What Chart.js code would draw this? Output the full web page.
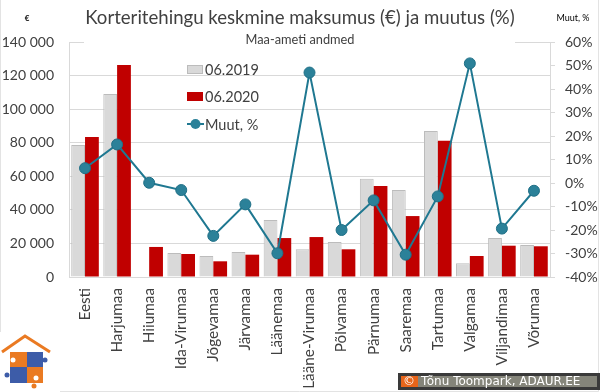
<!DOCTYPE html>
<html>
<head>
<meta charset="utf-8">
<script src="https://cdn.jsdelivr.net/npm/chart.js@4/dist/chart.umd.min.js"></script>
<style>
  html, body { margin: 0; padding: 0; background: #fff; }
  #wrap { width: 600px; height: 392px; position: relative; }
</style>
</head>
<body>
<div id="wrap"><canvas id="c"></canvas></div>
<script>
// data
const maakonnad = ['Eesti', 'Harjumaa', 'Hiiumaa', 'Ida-Virumaa', 'Jõgevamaa', 'Järvamaa', 'Läänemaa',
  'Lääne-Virumaa', 'Põlvamaa', 'Pärnumaa', 'Saaremaa', 'Tartumaa', 'Valgamaa', 'Viljandimaa', 'Võrumaa'];
const hind2019 = [78600, 109000, null, 14300, 12500, 14900, 34000, 16500, 20900, 58600, 51800, 87000, 8150, 23200, 19000];
const hind2020 = [83400, 126300, 17900, 13700, 9350, 13300, 23200, 23800, 16500, 54200, 36300, 81200, 12500, 18650, 18300];
const muutus = [6.3, 16.4, 0.1, -3.0, -22.5, -9.1, -29.9, 47.0, -20.0, -7.4, -30.5, -5.7, 50.9, -19.4, -3.3];

const TXT = '#404040';
const GRID = '#d9d9d9';
const FONT = 'Lato';

// texts, legend, logo and copyright drawn by hand
const extras = {
  id: 'extras',
  beforeDatasetsDraw(chart) {
    const ctx = chart.ctx;
    // subtitle box hides top gridline
    ctx.save();
    ctx.fillStyle = '#fff';
    ctx.fillRect(84, 38, 431, 8);
    ctx.restore();
  },
  afterDraw(chart) {
    const ctx = chart.ctx;
    ctx.save();
    ctx.textBaseline = 'middle';

    ctx.fillStyle = TXT;
    ctx.textAlign = 'center';
    ctx.font = '18.6px ' + FONT;
    ctx.fillText('Korteritehingu keskmine maksumus (€) ja muutus (%)', 300, 18);
    ctx.font = '12.8px ' + FONT;
    ctx.fillText('Maa-ameti andmed', 300, 40);
    ctx.fillStyle = '#000';
    ctx.font = 'bold 8px ' + FONT;
    ctx.fillText('€', 27, 18);
    ctx.font = '9px ' + FONT;
    ctx.fillText('Muut, %', 573, 18);

    // legend
    const ds = chart.data.datasets;
    ctx.textAlign = 'left';
    ctx.font = '14.5px ' + FONT;
    const rows = [69, 96, 124];
    ds.forEach((d, i) => {
      const y = rows[i];
      if (d.type === 'line') {
        ctx.strokeStyle = d.borderColor;
        ctx.lineWidth = 2;
        ctx.beginPath(); ctx.moveTo(187, y); ctx.lineTo(204, y); ctx.stroke();
        ctx.fillStyle = d.pointBackgroundColor;
        ctx.beginPath(); ctx.arc(195.5, y, 5, 0, Math.PI * 2); ctx.fill();
      } else {
        ctx.fillStyle = d.backgroundColor;
        ctx.fillRect(187, y - 4, 16, 9);
        if (d.borderWidth) {
          ctx.strokeStyle = d.borderColor; ctx.lineWidth = 1;
          ctx.strokeRect(187.5, y - 3.5, 15, 8);
        }
      }
      ctx.fillStyle = TXT;
      ctx.fillText(d.label, 205, y + 1);
    });

    // frame
    ctx.strokeStyle = '#e3e3e3';
    ctx.lineWidth = 1;
    ctx.beginPath();
    ctx.moveTo(0.5, 0); ctx.lineTo(0.5, 391.5); ctx.lineTo(598.5, 391.5); ctx.lineTo(598.5, 0);
    ctx.stroke();

    // logo
    ctx.fillStyle = '#fff';
    ctx.fillRect(0, 332, 60, 60);
    const OR = '#ea7a22', BL = '#3d5ca8';
    ctx.strokeStyle = OR; ctx.lineWidth = 3;
    ctx.beginPath(); ctx.moveTo(2, 352); ctx.lineTo(25, 336); ctx.lineTo(50, 352); ctx.stroke();
    ctx.fillStyle = OR; ctx.fillRect(10, 352, 17, 15);
    ctx.fillStyle = BL; ctx.fillRect(27, 352, 16, 15);
    ctx.fillStyle = BL; ctx.fillRect(10, 367, 17, 16);
    ctx.fillStyle = OR; ctx.fillRect(27, 367, 16, 16);
    ctx.fillStyle = BL;
    ctx.beginPath(); ctx.arc(45, 360, 2.5, 0, Math.PI * 2); ctx.fill();
    ctx.beginPath(); ctx.arc(7, 375, 2.5, 0, Math.PI * 2); ctx.fill();
    ctx.fillStyle = OR;
    ctx.beginPath(); ctx.arc(34, 386, 2.5, 0, Math.PI * 2); ctx.fill();
    ctx.fillStyle = '#fff';
    ctx.beginPath(); ctx.arc(13, 360, 2.5, 0, Math.PI * 2); ctx.fill();
    ctx.beginPath(); ctx.arc(36, 378, 2.5, 0, Math.PI * 2); ctx.fill();

    // copyright
    ctx.fillStyle = '#85857a';
    ctx.fillRect(399, 374, 200, 15);
    ctx.fillStyle = '#e8651a';
    ctx.fillRect(400, 375, 18, 13);
    ctx.strokeStyle = '#3a3a3a';
    ctx.strokeRect(399.5, 374.5, 199, 14);
    ctx.fillStyle = '#fff';
    ctx.font = '12px "DejaVu Sans"';
    ctx.fillText('©', 403, 382);
    ctx.fillText('Tõnu Toompark, ADAUR.EE', 421, 382);
    ctx.restore();
  }
};

new Chart(document.getElementById('c'), {
  data: {
    labels: maakonnad,
    datasets: [
      {
        type: 'bar', label: '06.2019', data: hind2019, yAxisID: 'y',
        backgroundColor: '#d9d9d9', borderColor: '#bcbcbc', borderWidth: 1,
        categoryPercentage: 0.86, barPercentage: 1.0, order: 2
      },
      {
        type: 'bar', label: '06.2020', data: hind2020, yAxisID: 'y',
        backgroundColor: '#c00000', borderWidth: 0,
        categoryPercentage: 0.86, barPercentage: 1.0, order: 2
      },
      {
        type: 'line', label: 'Muut, %', data: muutus, yAxisID: 'y1',
        borderColor: '#1f7891', borderWidth: 2, tension: 0,
        pointRadius: 5.5, pointBackgroundColor: '#2b8199', pointBorderColor: '#1f6f86',
        pointBorderWidth: 1, order: 1
      }
    ]
  },
  options: {
    responsive: true,
    maintainAspectRatio: false,
    animation: false,
    layout: { padding: { top: 42, left: 0, right: 0, bottom: 0 } },
    plugins: { legend: { display: false }, title: { display: false }, tooltip: { enabled: false } },
    scales: {
      x: {
        grid: { display: false, drawTicks: false },
        border: { display: true, color: GRID },
        ticks: {
          autoSkip: false, maxRotation: 90, minRotation: 90, padding: 11,
          color: TXT, font: { family: FONT, size: 15.3 }
        },
        afterFit(s) { s.height = 115; }
      },
      y: {
        position: 'left', min: 0, max: 140000,
        grid: { color: GRID, drawTicks: false },
        border: { display: true, color: GRID },
        ticks: {
          stepSize: 20000, padding: 15, color: TXT, font: { family: FONT, size: 14 },
          callback: v => v.toLocaleString('en-US').replace(/,/g, ' ')
        },
        afterFit(s) { s.width = 69; }
      },
      y1: {
        position: 'right', min: -40, max: 60,
        grid: { drawOnChartArea: false, drawTicks: true, tickLength: 5, color: GRID },
        border: { display: true, color: GRID },
        ticks: {
          stepSize: 10, padding: 10, color: TXT, font: { family: FONT, size: 14 },
          callback: v => v + '%'
        },
        afterFit(s) { s.width = 50; }
      }
    }
  },
  plugins: [extras]
});
</script>
</body>
</html>
